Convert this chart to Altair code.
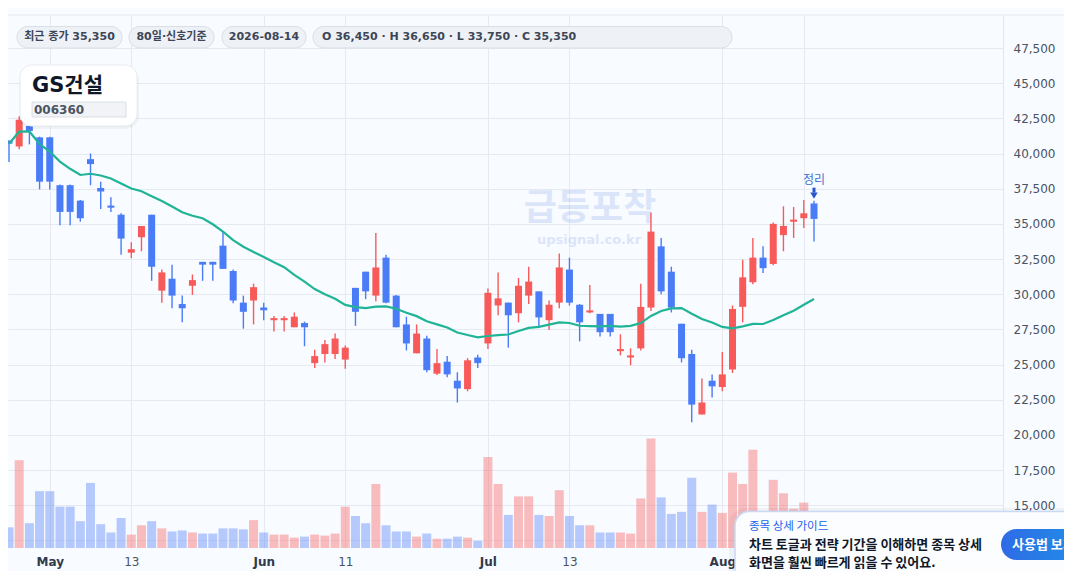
import altair as alt
import pandas as pd

# ---------------- data ----------------
dates = [d.strftime("%Y-%m-%d") for d in pd.bdate_range("2026-04-27", "2026-08-14")]

opens = [40900, 40500, 41950, 41150, 41150, 37750, 37750, 36650, 39600, 37550,
         36300, 35650, 32950, 34050, 35650, 30250, 31100, 29300, 30600, 32300,
         32300, 33450, 31650, 29400, 29550, 29050, 28150, 28150, 27650, 27950,
         25100, 25750, 25750, 25350, 30450, 31600, 29900, 32600, 29900, 27850,
         25800, 26850, 24350, 25200, 23850, 23250, 25500, 26500, 29200, 29400,
         28650, 29900, 30200, 28150, 29400, 31750, 29250, 28700, 28600, 28600,
         25950, 25500, 26150, 29050, 33400, 31600, 27900, 25750, 21450, 23850,
         23400, 24650, 29100, 30850, 32600, 32150, 34200, 35150, 35400, 36450]
highs = [40950, 42650, 42200, 41200, 41200, 37800, 37800, 36700, 40000, 38000,
         36900, 35750, 33700, 34850, 35650, 31750, 32100, 29900, 31400, 32300,
         32300, 34450, 31750, 29900, 30750, 29400, 28450, 28450, 28700, 28050,
         26050, 26750, 27200, 26350, 30450, 31600, 34350, 32800, 29950, 28400,
         27850, 27050, 26100, 25600, 24450, 25450, 25700, 30400, 31550, 29400,
         31150, 31950, 30200, 29550, 32900, 32600, 29300, 30650, 28600, 28600,
         27150, 26150, 30750, 35800, 34000, 31950, 27900, 26050, 24000, 24300,
         25900, 29200, 32450, 34000, 33400, 35100, 36250, 36200, 36700, 36650]
lows = [39400, 40300, 40650, 37450, 37450, 34900, 34900, 35150, 37750, 36050,
        35850, 32800, 32550, 33050, 30950, 29400, 29000, 28000, 29950, 30950,
        30950, 31800, 29350, 27550, 27850, 28150, 27350, 27350, 27650, 26300,
        24750, 25150, 25400, 24700, 27750, 29650, 29500, 29350, 27650, 26000,
        25800, 24450, 24250, 24100, 22300, 23100, 24750, 26100, 28500, 26200,
        28000, 29300, 27700, 27450, 29000, 29200, 26650, 28650, 27000, 27000,
        25650, 24950, 26000, 28800, 30000, 28700, 25150, 20900, 21450, 22650,
        23100, 24400, 28000, 30700, 31500, 32050, 33050, 34000, 34700, 33750]
closes = [40700, 42400, 41600, 38000, 38000, 35850, 35850, 35400, 39250, 37300,
          36150, 33950, 33200, 34850, 31950, 31550, 29900, 29000, 31000, 32100,
          32100, 31800, 29550, 28750, 30500, 28850, 28300, 28300, 28400, 27650,
          25600, 26450, 26850, 26200, 28750, 30200, 31900, 29400, 27650, 26500,
          27200, 24600, 25100, 24300, 23300, 25300, 25100, 30100, 29700, 28500,
          30600, 30900, 28350, 29250, 31900, 29400, 28000, 28850, 27300, 27300,
          26100, 25650, 29100, 34450, 30200, 29050, 25450, 22150, 22300, 23450,
          24300, 28950, 31200, 32600, 31850, 35000, 34850, 35300, 35750, 35350]
volumes = [60, 255, 72, 165, 165, 120, 120, 78, 189, 69,
           45, 87, 39, 66, 78, 57, 48, 51, 45, 42,
           42, 57, 57, 54, 81, 45, 39, 39, 30, 33,
           39, 36, 42, 120, 93, 72, 186, 66, 48, 48,
           33, 42, 27, 27, 33, 30, 21, 264, 186, 96,
           150, 150, 96, 93, 168, 93, 66, 66, 45, 45,
           45, 42, 144, 318, 147, 99, 105, 204, 105, 126,
           102, 219, 186, 285, 90, 198, 159, 114, 132, 100]

tick_idx = [4, 12, 25, 33, 47, 55, 70, 78]
tick_text = ["May", "13", "Jun", "11", "Jul", "13", "Aug", ""]   # last one sits under the guide card
month_idx = [4, 25, 47, 70]
price_ticks = [12500, 15000, 17500, 20000, 22500, 25000, 27500, 30000,
               32500, 35000, 37500, 40000, 42500, 45000, 47500]
hidden_price_label = 12500   # covered by the guide card in the reference

badges = ["최근 종가 35,350", "80일·신호기준", "2026-08-14",
          "O 36,450 · H 36,650 · L 33,750 · C 35,350"]
stock_name = "GS건설"
stock_code = "006360"
guide_title = "종목 상세 가이드"
guide_lines = ["차트 토글과 전략 기간을 이해하면 종목 상세", "화면을 훨씬 빠르게 읽을 수 있어요."]
guide_button = "사용법 보기"
watermark = ["급등포착", "upsignal.co.kr"]
signal_label = "정리"

# ---------------- styling ----------------
RED = "#f85a5a"
BLUE = "#4a7cf7"
TEAL = "#20b496"
BG = "#f8fbff"
GRID = "#e6eaf0"
FONT = "DejaVu Sans, Noto Sans CJK KR, sans-serif"
KFONT = "Noto Sans CJK KR, DejaVu Sans, sans-serif"

df = pd.DataFrame({
    "idx": list(range(len(dates))), "date": dates,
    "open": opens, "high": highs, "low": lows, "close": closes, "volume": volumes,
})
df["dir"] = ["up" if c >= o else "down" for o, c in zip(opens, closes)]

tick_js = "[" + ",".join(str(v) for v in tick_idx) + "]"
text_js = "[" + ",".join("'" + t + "'" for t in tick_text) + "]"
month_js = "[" + ",".join(str(v) for v in month_idx) + "]"

xs = alt.Scale(domain=[-0.098, 97.547], nice=False, zero=False, padding=0)
ys = alt.Scale(domain=[11959, 49846], nice=False, zero=False, padding=0)
vs = alt.Scale(domain=[0, 1548], nice=False, zero=True, padding=0)
cs = alt.Scale(domain=["up", "down"], range=[RED, BLUE])

x_axis = alt.Axis(
    values=tick_idx,
    labelExpr=f"{text_js}[indexof({tick_js}, datum.value)]",
    grid=True, gridColor=GRID, gridWidth=1,
    ticks=False, domain=False, labelPadding=8,
    labelFont=FONT, labelFontSize=12,
    labelFontWeight={"condition": {"test": f"indexof({month_js}, datum.value) >= 0", "value": "bold"}, "value": "normal"},
    labelColor={"condition": {"test": f"indexof({month_js}, datum.value) >= 0", "value": "#2f3a4a"}, "value": "#4a5363"},
)
y_axis = alt.Axis(
    orient="right", values=price_ticks,
    labelExpr=f"datum.value == {hidden_price_label} ? '' : format(datum.value, ',d')",
    grid=True, gridColor=GRID, gridWidth=1,
    ticks=False, domain=True, domainColor="#e2e7ee",
    labelAlign="left", labelPadding=10,
    labelFont=FONT, labelFontSize=12, labelColor="#4a5363",
)

X = alt.X("idx:Q", scale=xs, axis=x_axis, title=None)

base = alt.Chart(df)

volume = base.mark_bar(width=9, opacity=0.39).encode(
    x=X,
    y=alt.Y("volume:Q", scale=vs, axis=None),
    color=alt.Color("dir:N", scale=cs, legend=None),
)

wicks = base.mark_rule(strokeWidth=1.4).encode(
    x=X,
    y=alt.Y("low:Q", scale=ys, axis=y_axis, title=None),
    y2="high:Q",
    color=alt.Color("dir:N", scale=cs, legend=None),
)
bodies = base.mark_bar(width=7).encode(
    x=X,
    y=alt.Y("open:Q", scale=ys, axis=y_axis, title=None),
    y2="close:Q",
    color=alt.Color("dir:N", scale=cs, legend=None),
)
ma = base.transform_window(
    ma="mean(close)", frame=[-19, 0], sort=[alt.SortField("idx")]
).mark_line(color=TEAL, strokeWidth=2.2).encode(
    x=X,
    y=alt.Y("ma:Q", scale=ys, axis=y_axis, title=None),
)
last = base.transform_filter(f"datum.idx == {len(dates) - 1}")
sig_text = last.mark_text(text=signal_label, dy=-21, fontSize=12, color="#4a6fd0", font=KFONT).encode(
    x=X, y=alt.Y("high:Q", scale=ys, axis=y_axis, title=None))
sig_shaft = last.mark_rule(strokeWidth=3, color="#2a55cf", yOffset=-13, y2Offset=-8).encode(
    x=X, y=alt.Y("high:Q", scale=ys, axis=y_axis, title=None), y2="high:Q")
sig_head = last.mark_point(shape="triangle-down", filled=True, size=55, color="#2a55cf", opacity=1, yOffset=-5).encode(
    x=X, y=alt.Y("high:Q", scale=ys, axis=y_axis, title=None))

price = alt.layer(wicks, bodies, ma, sig_text, sig_shaft, sig_head)


def one(t=""):
    return alt.Chart(pd.DataFrame({"t": [t]}))


def box(x, x2, y, y2, fill, r=0, stroke=None, sw=1.0, opacity=1.0):
    kw = dict(fill=fill, cornerRadius=r, opacity=opacity)
    if stroke is not None:
        kw.update(stroke=stroke, strokeWidth=sw)
    return one().mark_rect(**kw).encode(
        x=alt.value(x), x2=alt.value(x2), y=alt.value(y), y2=alt.value(y2))


def label(t, x, y, size, color, weight="normal", align="left", font=FONT, opacity=1.0):
    return one(t).mark_text(align=align, baseline="middle", fontSize=size, color=color,
                            fontWeight=weight, font=font, opacity=opacity).encode(
        x=alt.value(x), y=alt.value(y), text="t:N")


# decorations, plot coords = page coords - (8, 15)
wm = [
    label(watermark[0], 582, 194, 36, "#3b6fe0", weight="bold", align="center", font=KFONT, opacity=0.15),
    label(watermark[1], 581, 225, 13, "#3b6fe0", weight="bold", align="center", font=FONT, opacity=0.15),
]

top_line = one().mark_rule(color="#e4e9f0", strokeWidth=1).encode(
    x=alt.value(-3), x2=alt.value(1059), y=alt.value(0))

pill_fill, pill_stroke, pill_text = "#eef1f6", "#d9dee7", "#3c4657"
pills = [
    box(9, 114, 11.5, 33, pill_fill, r=11, stroke=pill_stroke),
    box(121, 206, 11.5, 33, pill_fill, r=11, stroke=pill_stroke),
    box(214, 298, 11.5, 33, pill_fill, r=11, stroke=pill_stroke),
    box(305, 724, 11.5, 33, pill_fill, r=11, stroke=pill_stroke),
    label(badges[0], 61.5, 22, 11, pill_text, weight="bold", align="center"),
    label(badges[1], 163.5, 22, 11, pill_text, weight="bold", align="center"),
    label(badges[2], 256, 22, 11, pill_text, weight="bold", align="center"),
    label(badges[3], 314, 22, 11, pill_text, weight="bold", align="left"),
]

title_box = [
    box(11, 131, 52, 114, "#000000", r=13, opacity=0.04),
    box(12, 129, 51, 112, "#000000", r=12, opacity=0.04),
    box(12, 129, 50, 111, "#ffffff", r=12, stroke="#e8ecf2"),
    label(stock_name, 24, 71, 21, "#0f172a", weight="bold", font=FONT),
    box(24, 118, 87, 102, "#f1f3f6", r=0, stroke="#d9dee6"),
    label(stock_code, 26, 94.5, 12, "#4b5563", weight="bold", font=FONT),
]

grad = alt.LinearGradient(
    gradient="linear", x1=0, x2=1, y1=0, y2=0,
    stops=[alt.GradientStop(color="#2f6be6", offset=0), alt.GradientStop(color="#17a2e6", offset=1)],
)
guide = [
    box(721, 1100, 493, 620, "#000000", r=16, opacity=0.04),
    box(727, 1100, 496.5, 620, "#fbfdff", r=14, stroke="#c9d9f4", sw=1.5),
    label(guide_title, 741, 512, 11.5, "#2563eb", font=KFONT),
    label(guide_lines[0], 741, 529.5, 13, "#111827", weight="bold", font=KFONT),
    label(guide_lines[1], 741, 548, 13, "#111827", weight="bold", font=KFONT),
    box(993, 1120, 514, 545, grad, r=16),
    label(guide_button, 1004, 529.5, 13, "#ffffff", weight="bold", font=KFONT),
]

chart = alt.layer(
    *wm, top_line, volume, price, *pills, *title_box, *guide
).resolve_scale(y="independent").properties(
    width=995, height=533,
    background=BG,
    padding={"left": 0, "top": 7, "right": 61, "bottom": 23},
    autosize=alt.AutoSizeParams(type="none"),
).configure_view(stroke=None)

chart.save("out.html", embed_options={"renderer": "svg", "actions": False})
